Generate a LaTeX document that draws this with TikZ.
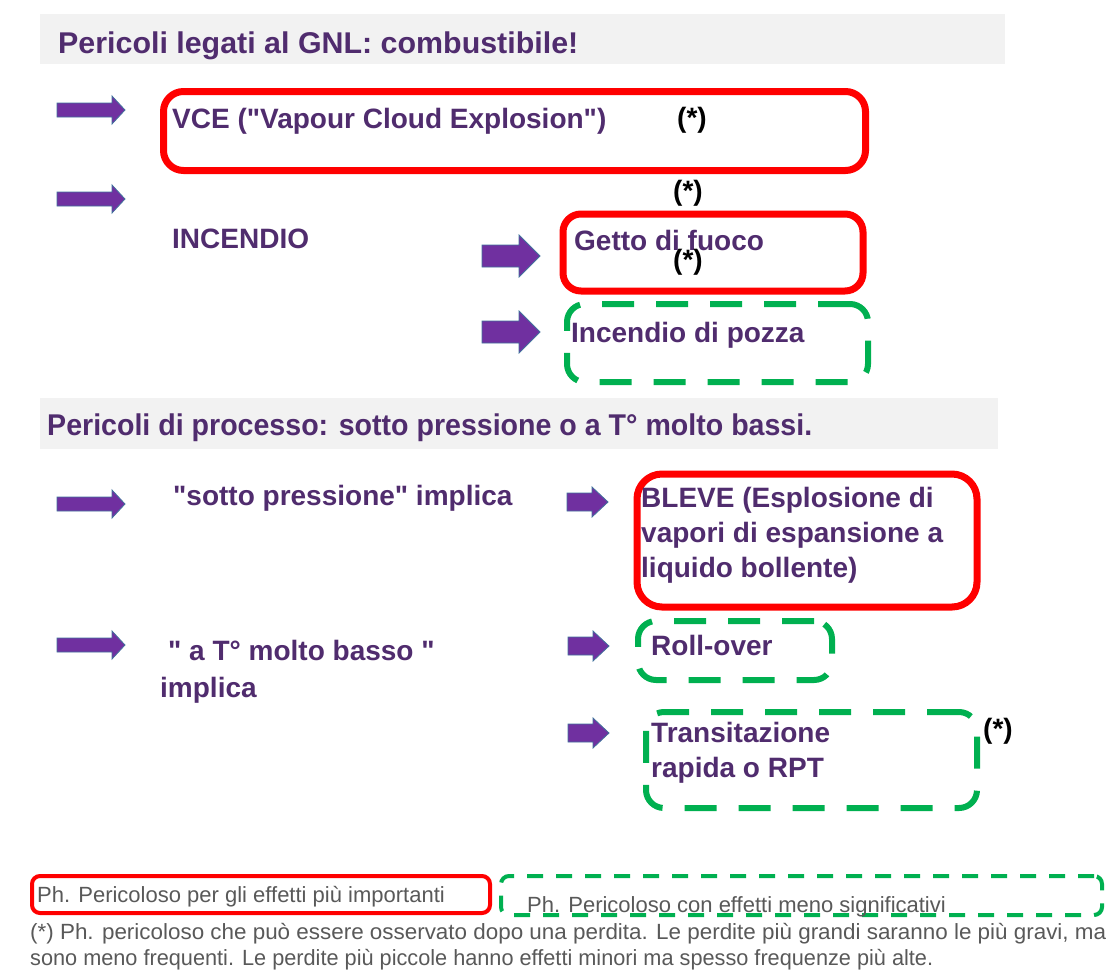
\documentclass[tikz,border=0pt]{standalone}
\usepackage{fontspec}
\setmainfont{Liberation Sans}
\usepackage{graphicx}
\definecolor{txtpurple}{RGB}{80,44,110}
\definecolor{arrowfill}{RGB}{112,48,160}
\definecolor{arrowline}{RGB}{65,113,156}
\definecolor{bandgray}{RGB}{242,242,242}
\definecolor{hazred}{RGB}{255,0,0}
\definecolor{hazgreen}{RGB}{0,176,80}
\definecolor{notegray}{RGB}{89,89,89}
% stretch or squeeze a line horizontally to a given width (pt)
\newcommand\fitline[2]{\resizebox{#1pt}{\height}{#2}}
\newcommand\dq{\textquotedbl}
\tikzset{
  band/.style={fill=bandgray, draw=none, inner sep=0pt, anchor=north west},
  headtext/.style={text=txtpurple, font=\bfseries\fontsize{30}{34}\selectfont, inner sep=0pt, anchor=base west},
  itemtext/.style={text=txtpurple, font=\bfseries\fontsize{28}{32}\selectfont, inner sep=0pt, anchor=base west},
  startext/.style={text=black, font=\bfseries\fontsize{28}{32}\selectfont, inner sep=0pt, anchor=base west},
  notetext/.style={text=notegray, font=\fontsize{22}{26}\selectfont, inner sep=0pt, anchor=base west},
  redbox/.style={draw=hazred, line width=7pt, rounded corners=20pt, inner sep=0pt, anchor=north west},
  greenbox/.style={draw=hazgreen, line width=6pt, dash pattern=on 32pt off 22pt, rounded corners=18pt, inner sep=0pt, anchor=north west},
  pics/blockarrow/.style n args={4}{code={
    \filldraw[fill=arrowfill, draw=arrowline, line width=0.8pt]
      (0,-#2/2) -- (#1-#3,-#2/2) -- (#1-#3,-#4/2) -- (#1,0)
      -- (#1-#3,#4/2) -- (#1-#3,#2/2) -- (0,#2/2) -- cycle;
  }},
}
\begin{document}
\begin{tikzpicture}[x=1pt,y=-1pt]
\useasboundingbox[fill=white] (0,0) rectangle (1108,972);

% section headers
\node (band1) [band, minimum width=965pt, minimum height=50pt] at (40,14) {};
\node (head1) [headtext] at (58,53) {\fitline{520}{Pericoli legati al GNL: combustibile!}};
\node (band2) [band, minimum width=958pt, minimum height=51pt] at (40,398) {};
\node (head2) [headtext] at (47,435) {\fitline{765}{Pericoli di processo: sotto pressione o a T° molto bassi.}};

% fuel hazards
\pic at (57,110) {blockarrow={68}{14}{13}{28}};
\pic at (57,199) {blockarrow={68}{14}{13}{28}};
\node (vcebox) [redbox, minimum width=702pt, minimum height=79pt] at (160,88) {};
\node (vce) [itemtext] at (172,128) {VCE (\dq Vapour Cloud Explosion\dq)};
\node (star1) [startext] at (677,127) {(*)};
\node (star2) [startext] at (673,200) {(*)};
\node (incendio) [itemtext] at (172,248) {INCENDIO};

\pic at (482,256) {blockarrow={58}{22}{21}{42}};
\pic at (482,332) {blockarrow={58}{22}{21}{42}};
\node (gettobox) [redbox, rounded corners=18pt, minimum width=300pt, minimum height=77pt] at (559.5,210.5) {};
\node (getto) [itemtext] at (574,250) {Getto di fuoco};
\node (star3) [startext] at (673,269) {(*)};
\node (pozzabox) [greenbox, minimum width=301pt, minimum height=78pt] at (564,301) {};
\node (pozza) [itemtext] at (571,342) {Incendio di pozza};

% process hazards
\pic at (57,504) {blockarrow={68}{14}{13}{28}};
\node (press) [itemtext] at (173,505) {\dq sotto pressione\dq{} implica};
\pic at (567,502) {blockarrow={41}{18}{16}{30}};
\node (blevebox) [redbox, rounded corners=25pt, minimum width=340pt, minimum height=133pt] at (633.5,470.5) {};
\node (bleve1) [itemtext] at (641,507) {BLEVE (Esplosione di};
\node (bleve2) [itemtext] at (641,542) {vapori di espansione a};
\node (bleve3) [itemtext] at (641,577) {liquido bollente)};

\pic at (57,645) {blockarrow={68}{14}{13}{28}};
\node (basso) [itemtext] at (168,660) {\dq{} a T° molto basso \dq};
\node (implica) [itemtext] at (160,697) {implica};
\pic at (568,646) {blockarrow={41}{18}{16}{30}};
\node (rollbox) [greenbox, minimum width=194pt, minimum height=59pt] at (635,618) {};
\node (roll) [itemtext] at (651,655) {Roll-over};
\pic at (568,733) {blockarrow={41}{18}{16}{30}};
\node (rptbox) [greenbox, minimum width=331pt, minimum height=96pt] at (643,709) {};
\node (rpt1) [itemtext] at (651,742) {Transitazione};
\node (rpt2) [itemtext] at (651,777) {rapida o RPT};
\node (star4) [startext] at (983,738) {(*)};

% legend and footnote
\node (legred) [redbox, line width=4pt, rounded corners=8pt, minimum width=458pt, minimum height=37pt] at (30,874) {};
\node (legredtxt) [notetext] at (37,902) {Ph. Pericoloso per gli effetti più importanti};
\node (leggreen) [greenbox, line width=4pt, dash pattern=on 16pt off 13pt, rounded corners=8pt, minimum width=601pt, minimum height=39pt] at (499,874) {};
\node (leggreentxt) [notetext] at (527,912) {Ph. Pericoloso con effetti meno significativi};
\node (note1) [notetext] at (30,939) {\fitline{1076}{(*) Ph. pericoloso che può essere osservato dopo una perdita. Le perdite più grandi saranno le più gravi, ma}};
\node (note2) [notetext] at (30,965) {\fitline{903}{sono meno frequenti. Le perdite più piccole hanno effetti minori ma spesso frequenze più alte.}};
\end{tikzpicture}
\end{document}
